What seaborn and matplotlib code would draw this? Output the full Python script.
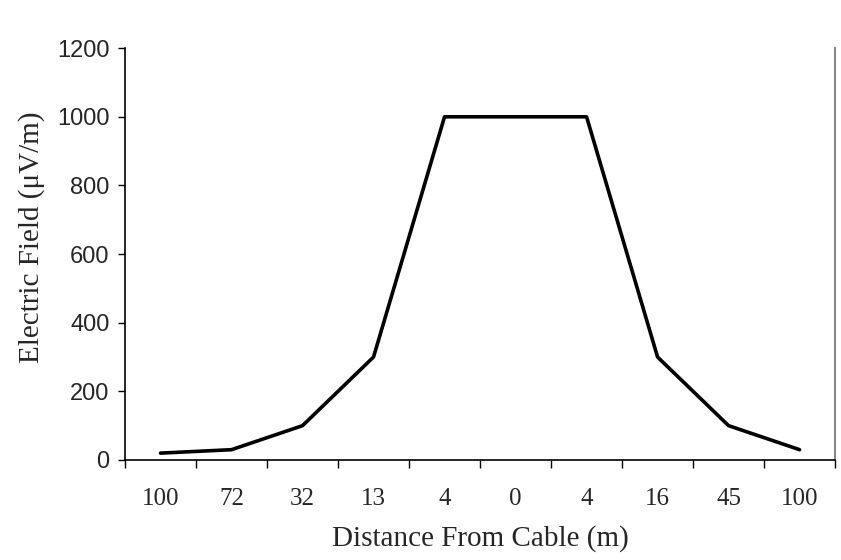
import numpy as np
import pandas as pd
import matplotlib.pyplot as plt
import seaborn as sns
from matplotlib.ticker import FixedLocator

# distances along the survey line (labels), and field strength at each
distance_labels = ['100', '72', '32', '13', '4', '0', '4', '16', '45', '100']
field_uv_m = [20, 30, 100, 300, 1000, 1000, 1000, 300, 100, 30]

df = pd.DataFrame({'pos': np.arange(len(distance_labels)), 'field': field_uv_m})

sns.set_style('white')
plt.rcParams['font.family'] = ['Liberation Serif', 'DejaVu Serif']

fig = plt.figure(figsize=(8.41, 5.6), dpi=100)
ax = fig.add_axes([0.1486, 0.1786, 0.8444, 0.7354])

sns.lineplot(data=df, x='pos', y='field', ax=ax, color='black',
             linewidth=2.6, legend=False)

ax.set_xlim(-0.5, len(distance_labels) - 0.5)
ax.set_ylim(0, 1200)
ax.set_yticks(np.arange(0, 1201, 200))
ax.set_yticklabels([str(v) for v in range(0, 1201, 200)],
                   family='Liberation Sans', fontsize=17)

ax.set_xticks(df['pos'])
ax.set_xticklabels(distance_labels, fontsize=18)
ax.xaxis.set_minor_locator(FixedLocator(np.arange(-0.5, len(distance_labels), 1.0)))
ax.tick_params(axis='x', which='major', length=0, pad=20)
ax.tick_params(axis='x', which='minor', length=6, width=1, direction='out',
               bottom=True, color='black')
ax.tick_params(axis='y', which='major', length=5, width=1, direction='out',
               left=True, pad=6, color='black')

ax.set_xlabel('Distance From Cable (m)', fontsize=21, labelpad=11)
ax.set_ylabel('Electric Field (\u03bcV/m)', fontsize=21)
ax.yaxis.set_label_coords(-0.112, 0.54)

for side in ['left', 'bottom']:
    ax.spines[side].set_color('black')
    ax.spines[side].set_linewidth(1.2)
ax.spines['right'].set_color('#888888')
ax.spines['right'].set_linewidth(1.5)
ax.spines['top'].set_visible(False)
ax.grid(False)

plt.savefig('out.png', dpi=100)
plt.close()
